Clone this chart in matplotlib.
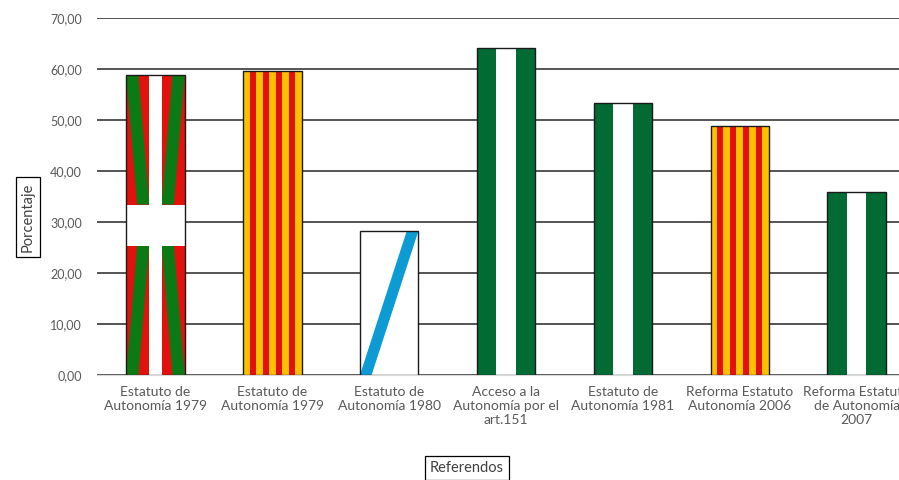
import numpy as np
import matplotlib.pyplot as plt
from matplotlib.patches import Rectangle, Polygon

# datos de los referendos (porcentaje)
categorias = [
    "Estatuto de\nAutonomía 1979",
    "Estatuto de\nAutonomía 1979",
    "Estatuto de\nAutonomía 1980",
    "Acceso a la\nAutonomía por el\nart.151",
    "Estatuto de\nAutonomía 1981",
    "Reforma Estatuto\nAutonomía 2006",
    "Reforma Estatuto\nde Autonomía\n2007",
]
porcentajes = [58.8, 59.6, 28.2, 64.1, 53.3, 48.8, 35.9]
banderas = ["euskadi", "catalunya", "galicia", "andalucia", "andalucia", "catalunya", "andalucia"]
yticks = [0, 10, 20, 30, 40, 50, 60, 70]

ROJO = "#e3110d"
VERDE_EUS = "#0b7a14"
AMARILLO = "#ffc000"
AZUL = "#0d9bd3"
VERDE_AND = "#016b33"
GRIS = "#595959"

plt.rcParams["font.family"] = ["Lato", "DejaVu Sans"]

fig = plt.figure(figsize=(8.99, 4.8), dpi=100)
# el eje sigue fuera de la imagen por la derecha (captura recortada)
ax = fig.add_axes([97 / 899, 105 / 480, 818 / 899, 357 / 480])

x = np.arange(len(categorias))
barras = ax.bar(x, porcentajes, width=0.5, color="white", zorder=2)


def pintar(ax, p, bandera):
    x0, w, h = p.get_x(), p.get_width(), p.get_height()
    piezas = []
    if bandera == "catalunya":
        piezas.append(Rectangle((x0, 0), w, h, facecolor=AMARILLO))
        s = w / 9
        for i in range(1, 9, 2):
            piezas.append(Rectangle((x0 + i * s, 0), s, h, facecolor=ROJO))
    elif bandera == "andalucia":
        s = w / 3
        piezas.append(Rectangle((x0, 0), s, h, facecolor=VERDE_AND))
        piezas.append(Rectangle((x0 + 2 * s, 0), s, h, facecolor=VERDE_AND))
    elif bandera == "galicia":
        b = w * 0.2
        piezas.append(Polygon([(x0, 0), (x0 + b, 0), (x0 + w, h), (x0 + w - b, h)],
                              closed=True, facecolor=AZUL))
    elif bandera == "euskadi":
        piezas.append(Rectangle((x0, 0), w, h, facecolor=ROJO))
        xc, yc = x0 + w / 2, h / 2
        franja = w * 0.21      # cruz blanca vertical
        banda = h * 0.137      # cruz blanca horizontal
        qi, qd = xc - franja / 2, xc + franja / 2
        ys, yi = yc + banda / 2, yc - banda / 2
        d = w * 0.21
        # aspa verde: de cada esquina a la esquina interior del cuadrante
        piezas.append(Polygon([(x0, h), (x0 + d, h), (qi, ys), (qi - d, ys)], facecolor=VERDE_EUS))
        piezas.append(Polygon([(x0 + w, h), (x0 + w - d, h), (qd, ys), (qd + d, ys)], facecolor=VERDE_EUS))
        piezas.append(Polygon([(x0, 0), (x0 + d, 0), (qi, yi), (qi - d, yi)], facecolor=VERDE_EUS))
        piezas.append(Polygon([(x0 + w, 0), (x0 + w - d, 0), (qd, yi), (qd + d, yi)], facecolor=VERDE_EUS))
        piezas.append(Rectangle((qi, 0), franja, h, facecolor="white"))
        piezas.append(Rectangle((x0, yi), w, banda, facecolor="white"))
    for pz in piezas:
        pz.set_linewidth(0)
        pz.set_zorder(3)
        ax.add_patch(pz)
        pz.set_clip_path(p)


for p, b in zip(barras, banderas):
    pintar(ax, p, b)

# borde negro encima de los colores
ax.bar(x, porcentajes, width=0.5, facecolor="none", edgecolor="#1a1a1a", linewidth=1.0, zorder=4)

ax.set_xlim(-0.5, len(categorias) - 0.5)
ax.set_ylim(0, 70)
ax.set_yticks(yticks)
ax.set_yticklabels([f"{v:.2f}".replace(".", ",") for v in yticks])
ax.set_xticks(x)
ax.set_xticklabels(categorias, linespacing=1.2)
ax.tick_params(axis="both", length=0, colors=GRIS)
ax.tick_params(axis="y", pad=11, labelsize=9)
ax.tick_params(axis="x", pad=8, labelsize=10)

ax.grid(axis="y", color="#262626", linewidth=1.1, zorder=0)
ax.set_axisbelow(True)
for s in ["top", "right", "left"]:
    ax.spines[s].set_visible(False)
ax.spines["bottom"].set_color("#d9d9d9")
ax.spines["bottom"].set_zorder(1)

caja = dict(boxstyle="square,pad=0.35", facecolor="white", edgecolor="black", linewidth=0.9)
fig.text(28 / 899, 1 - 217 / 480, "Porcentaje", rotation=90, ha="center", va="center",
         fontsize=10.5, color="#404040", bbox=caja)
fig.text(467 / 899, 1 - 468 / 480, "Referendos", ha="center", va="center",
         fontsize=10.5, color="#404040", bbox=caja)

fig.savefig("out.png", dpi=100)
